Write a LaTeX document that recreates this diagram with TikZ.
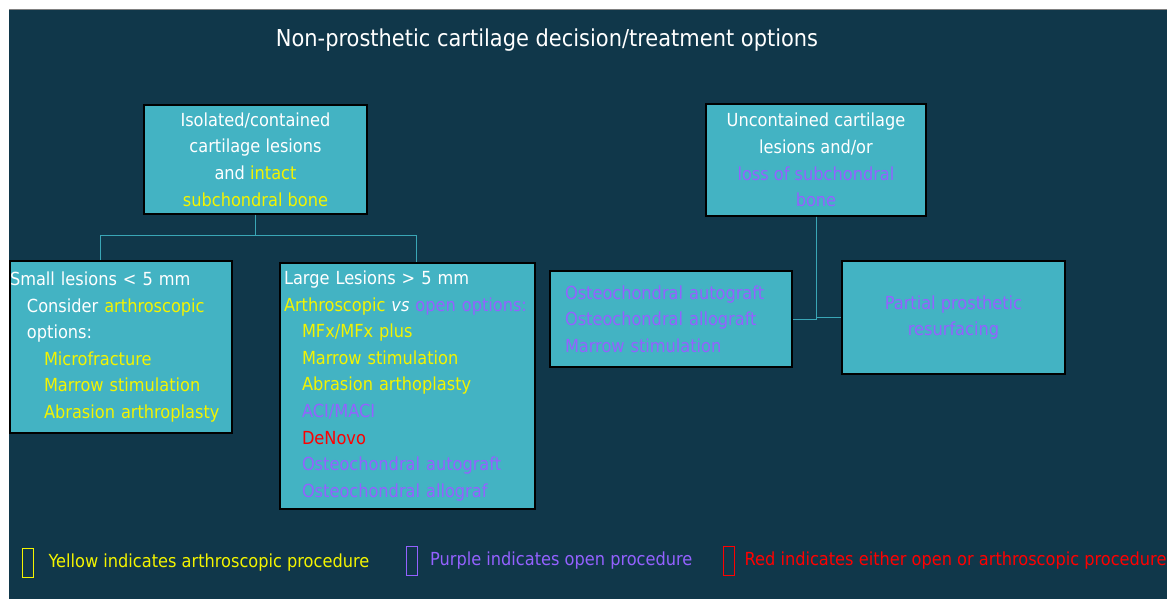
\documentclass[tikz,border=0pt]{standalone}
\usepackage{fontspec}
\setmainfont{DejaVu Sans Condensed}
\usepackage{xcolor}
\usetikzlibrary{positioning}
\definecolor{bgdark}{HTML}{10374A}
\definecolor{boxfill}{HTML}{43B3C3}
\definecolor{linkcol}{HTML}{3AA6B6}
\definecolor{yel}{HTML}{F4F400}
\definecolor{purp}{HTML}{9461FF}
\definecolor{redc}{HTML}{FF0000}

\begin{document}
\begin{tikzpicture}[x=1pt,y=-1pt]
\tikzstyle{box}=[draw=black, line width=1.2pt, fill=boxfill, inner sep=0pt, text=white, font=\fontsize{18}{26.6}\selectfont]
\tikzstyle{link}=[draw=linkcol, line width=1pt]
\tikzstyle{keybox}=[draw, line width=1pt, minimum width=11pt, minimum height=29pt, inner sep=0pt]
\tikzset{keytext/.style={font=\fontsize{18}{22}\selectfont, inner sep=0pt}}

% page and slide background
\useasboundingbox (0,0) rectangle (1167,599);
\fill[white] (0,0) rectangle (1167,599);
\fill[bgdark] (9,10) rectangle (1167,599);
\draw[gray, line width=1pt] (9,10) -- (1167,10);

\node[text=white, font=\fontsize{23.3}{28}\selectfont](t1) at (547,40){Non-prosthetic cartilage decision/treatment options};

% top boxes
\node[box, minimum width=223pt, minimum height=109pt, align=center](b1) at (255.5,159.5)
  {Isolated/contained\\cartilage lesions\\and \textcolor{yel}{intact}\\\textcolor{yel}{subchondral bone}};
\node[box, minimum width=220pt, minimum height=112pt, align=center](b2) at (816,160)
  {Uncontained cartilage\\lesions and/or\\\textcolor{purp}{loss of subchondral}\\\textcolor{purp}{bone}};

% lower boxes
\node[box, text width=222pt, minimum height=172pt, align=left](b3) at (121,347)
  {Small lesions < 5 mm\\
   \hspace*{17pt}Consider \textcolor{yel}{arthroscopic}\\
   \hspace*{17pt}options:\\
   \hspace*{34pt}\textcolor{yel}{Microfracture}\\
   \hspace*{34pt}\textcolor{yel}{Marrow stimulation}\\
   \hspace*{34pt}\textcolor{yel}{Abrasion arthroplasty}};
\node[box, inner xsep=4pt, text width=247pt, minimum height=246pt, align=left](b4) at (407.5,386)
  {Large Lesions > 5 mm\\
   \textcolor{yel}{Arthroscopic} \textit{vs} \textcolor{purp}{open options:}\\
   \hspace*{18pt}\textcolor{yel}{MFx/MFx plus}\\
   \hspace*{18pt}\textcolor{yel}{Marrow stimulation}\\
   \hspace*{18pt}\textcolor{yel}{Abrasion arthoplasty}\\
   \hspace*{18pt}\textcolor{purp}{ACI/MACI}\\
   \hspace*{18pt}\textcolor{redc}{DeNovo}\\
   \hspace*{18pt}\textcolor{purp}{Osteochondral autograft}\\
   \hspace*{18pt}\textcolor{purp}{Osteochondral allograf}};
\node[box, inner xsep=15pt, text width=212pt, minimum height=96pt, align=left, text=purp](b5) at (671,319)
  {Osteochondral autograft\\Osteochondral allograft\\Marrow stimulation};
\node[box, minimum width=223pt, minimum height=113pt, align=center, text=purp](b6) at (953.5,317.5)
  {Partial prosthetic\\resurfacing};

% connectors
\draw[link] (b1.south) -- ++(0,21) -| ([xshift=-21pt]b3.north);
\draw[link] (b1.south) ++(0,21) -| ([xshift=8.5pt]b4.north);
\draw[link] (b2.south) |- (b5.east);
\draw[link] (b2.south) |- (b6.west);

% colour key
\node[keybox, draw=yel](k1) at (27.5,563){};
\node[keytext, text=yel, right=15pt of k1](l1){Yellow indicates arthroscopic procedure};
\node[keybox, draw=purp](k2) at (412,561){};
\node[keytext, text=purp, right=12pt of k2](l2){Purple indicates open procedure};
\node[keybox, draw=redc](k3) at (728.5,561){};
\node[keytext, text=redc, right=10pt of k3](l3){Red indicates either open or arthroscopic procedure};
\end{tikzpicture}
\end{document}
